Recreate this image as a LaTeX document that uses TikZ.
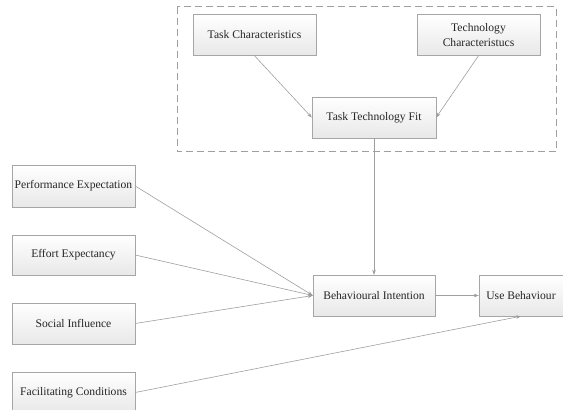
\documentclass[tikz,border=0pt]{standalone}
\usepackage{fontspec}
\setmainfont{Liberation Serif}
\usetikzlibrary{arrows.meta}

\tikzset{
	box/.style={draw=gray!70, top color=white, bottom color=gray!18, minimum width=123pt, minimum height=41pt, inner sep=1pt, align=center, font=\fontsize{11.6}{15}\selectfont, text=black!85},
	link/.style={draw=gray!75, line width=0.6pt, -{Stealth[length=5pt,width=3.5pt,fill=black!70]}}
}

\begin{document}
\begin{tikzpicture}[x=1pt,y=1pt]
			
			\useasboundingbox (0,0) rectangle (563,410);
			
			% Task technology fit part (dashed frame)
			\draw[gray!75, line width=1pt, dash pattern=on 7pt off 4pt] (177,403) rectangle (556,258);
			\node[box] (task) at (254.5,375) {Task Characteristics};
			\node[box] (tech) at (478.5,375) {Technology\\Characteristucs};
			\node[box, minimum width=124pt] (ttf) at (374,292.5) {Task Technology Fit};
			
			% Intention and behaviour
			\node[box, minimum width=122pt] (bi) at (374,114.5) {Behavioural Intention};
			\node[box, minimum width=84pt] (ub) at (521,114.5) {Use Behaviour};
			
			% UTAUT constructs on the left
			\node[box, minimum height=42pt] (pe) at (73.5,224) {Performance Expectation};
			\node[box, minimum height=40pt] (ee) at (73.5,155) {Effort Expectancy};
			\node[box] (si) at (73.5,86.5) {Social Influence};
			\node[box] (fc) at (73.5,17.5) {Facilitating Conditions};
			
			% Connecting arrows
			\draw[link] (task.south) -- (ttf.west);
			\draw[link] (tech.south) -- (ttf.east);
			\draw[link] (ttf.south) -- (bi.north);
			\draw[link] (pe.east) -- (bi.west);
			\draw[link] (ee.east) -- (bi.west);
			\draw[link] (si.east) -- (bi.west);
			\draw[link] (bi.east) -- (ub.west);
			\draw[link] (fc.east) -- (ub.south);
			
		\end{tikzpicture}
\end{document}
